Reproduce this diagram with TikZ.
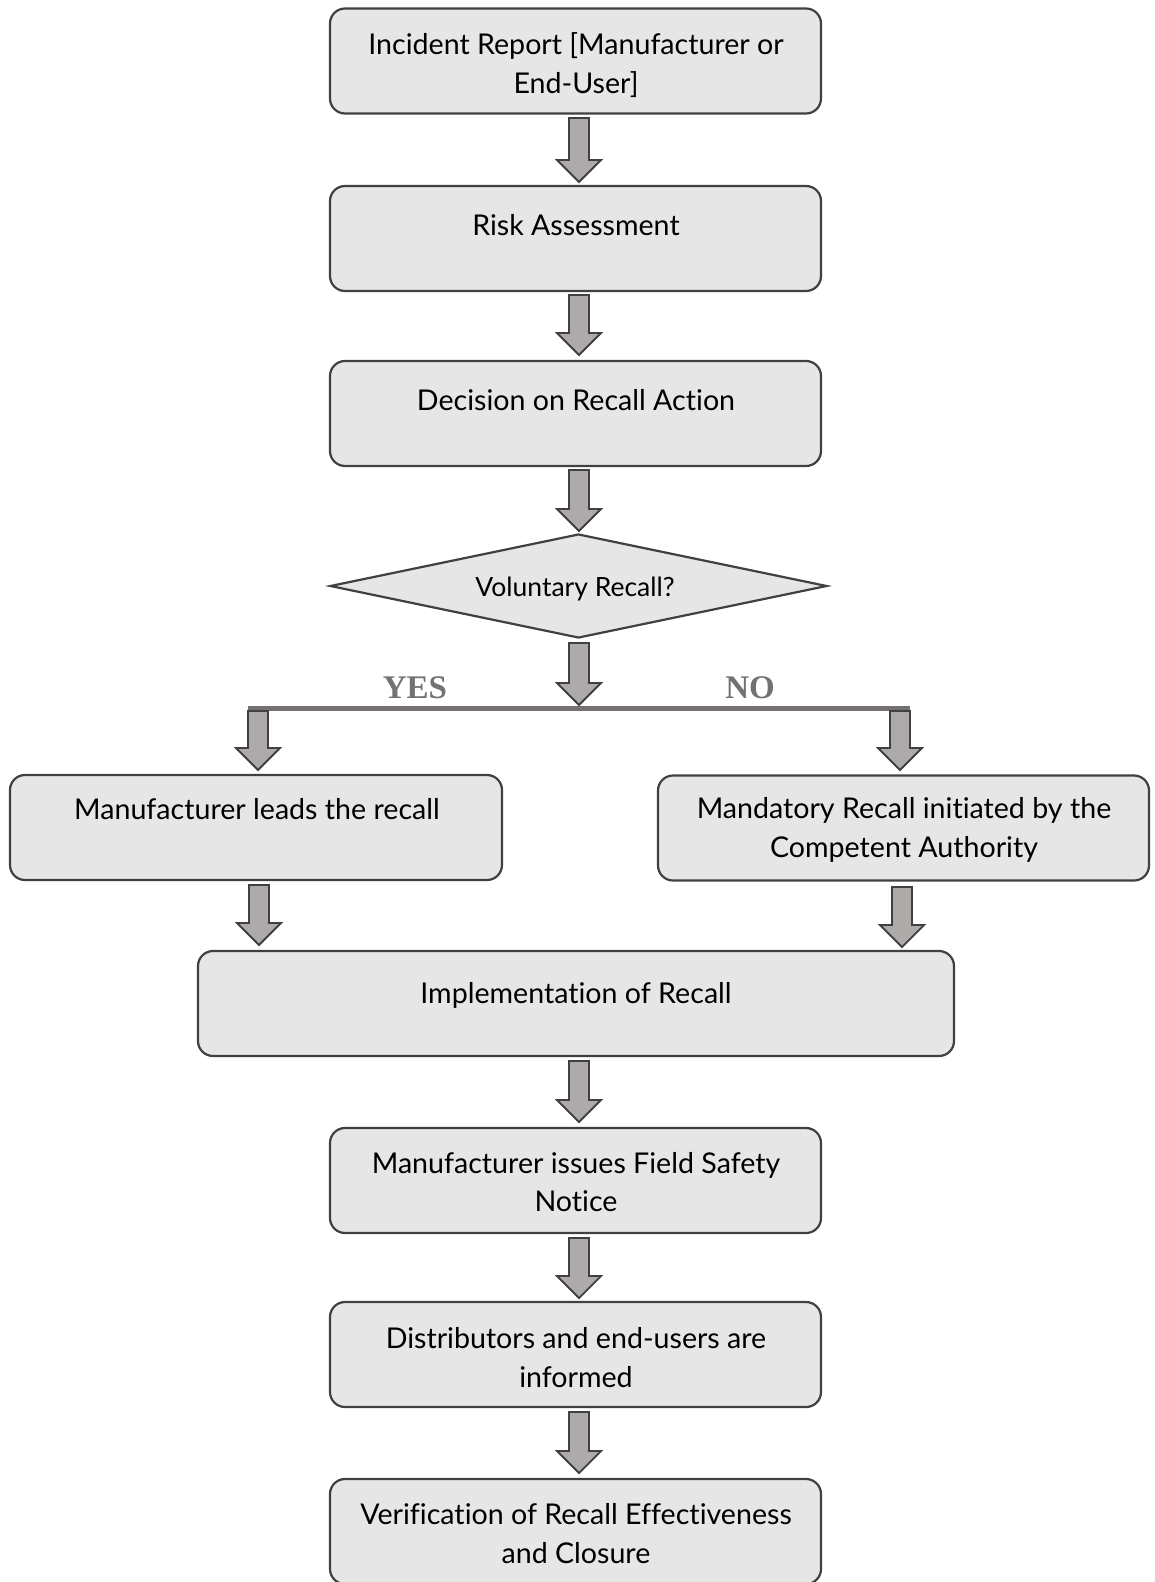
\documentclass[tikz,border=0pt]{standalone}
\usepackage{fontspec}
\setmainfont{Lato}[Ligatures={NoCommon}]
\usetikzlibrary{shapes.geometric}
\definecolor{boxfill}{HTML}{E7E6E6}
\definecolor{edge}{HTML}{404040}
\definecolor{arrowfill}{HTML}{AEAAAA}
\definecolor{branch}{HTML}{767171}
\newcommand{\mainfs}{\fontsize{28.6}{38.5}\selectfont}
\newfontfamily\serifbold{Liberation Serif}
% block arrow pointing down: x centre, top y, tip y
\newcommand{\blockarrow}[3]{%
  \draw[blockarr] ({#1-10},#2) -- ({#1+10},#2) -- ({#1+10},{#3-22}) -- ({#1+22},{#3-22})
    -- (#1,#3) -- ({#1-22},{#3-22}) -- ({#1-10},{#3-22}) -- cycle;}
\tikzset{
  stepbox/.style={draw=edge, line width=2.2pt, fill=boxfill, rounded corners=15pt,
    minimum height=105pt, inner sep=0pt},
  decision/.style={draw=edge, line width=2.2pt, fill=boxfill, diamond, aspect=4.8,
    inner sep=0pt, minimum width=497pt, minimum height=104pt},
  txt/.style={font=\mainfs, align=center, inner sep=0pt},
  blockarr/.style={draw=edge, line width=1.8pt, fill=arrowfill, line join=miter},
  yesno/.style={font=\fontsize{33}{33}\selectfont\serifbold\bfseries, text=branch, inner sep=0pt}
}
\begin{document}
\begin{tikzpicture}[x=1pt,y=-1pt]
\useasboundingbox (0,0) rectangle (1154,1582);

% process boxes
\node[stepbox, minimum width=491pt] (report) at (575.5,61) {};
\node[stepbox, minimum width=491pt] (risk) at (575.5,238.5) {};
\node[stepbox, minimum width=491pt] (decide) at (575.5,413.5) {};
\node[decision] (vol) at (578.5,586) {};
\node[stepbox, minimum width=492pt] (yesbox) at (256,827.5) {};
\node[stepbox, minimum width=491pt] (nobox) at (903.5,828) {};
\node[stepbox, minimum width=756pt] (impl) at (576,1003.5) {};
\node[stepbox, minimum width=491pt] (fsn) at (575.5,1180.5) {};
\node[stepbox, minimum width=491pt] (inform) at (575.5,1354.5) {};
\node[stepbox, minimum width=491pt] (verify) at (575.5,1531.5) {};

% texts
\node[txt] (t1) at (576,65) {Incident Report [Manufacturer or\\End-User]};
\node[txt, text height=20pt, text depth=0pt] (t2) at (576,225) {Risk Assessment};
\node[txt, text height=20pt, text depth=0pt] (t3) at (576,400) {Decision on Recall Action};
\node[txt, font=\fontsize{26.5}{30}\selectfont, text height=19pt, text depth=0pt] (t4) at (575,587) {Voluntary Recall?};
\node[txt, text height=20pt, text depth=0pt] (t5) at (257,809) {Manufacturer leads the recall};
\node[txt] (t6) at (904,830) {Mandatory Recall initiated by the\\Competent Authority};
\node[txt, text height=20pt, text depth=0pt] (t7) at (576,993) {Implementation of Recall};
\node[txt] (t8) at (576,1182) {Manufacturer issues Field Safety\\Notice};
\node[txt] (t9) at (576,1357.5) {Distributors and end-users are\\informed};
\node[txt] (t10) at (576,1533.5) {Verification of Recall Effectiveness\\and Closure};

% branching bar with labels
\coordinate (barL) at (248,708);
\coordinate (barR) at (910,708);
\draw[branch, line width=5pt] (barL) -- (barR);
\node[yesno] (yes) at (415,688) {YES};
\node[yesno] (no) at (750,688) {NO};

% block arrows
\blockarrow{579}{118}{182}
\blockarrow{579}{295}{355}
\blockarrow{579}{470}{531}
\blockarrow{579}{643}{705}
\blockarrow{258}{711}{770}
\blockarrow{900}{711}{770}
\blockarrow{259}{885}{945}
\blockarrow{902}{887}{947}
\blockarrow{579}{1061}{1122}
\blockarrow{579}{1238}{1298}
\blockarrow{579}{1412}{1473}
\end{tikzpicture}
\end{document}
